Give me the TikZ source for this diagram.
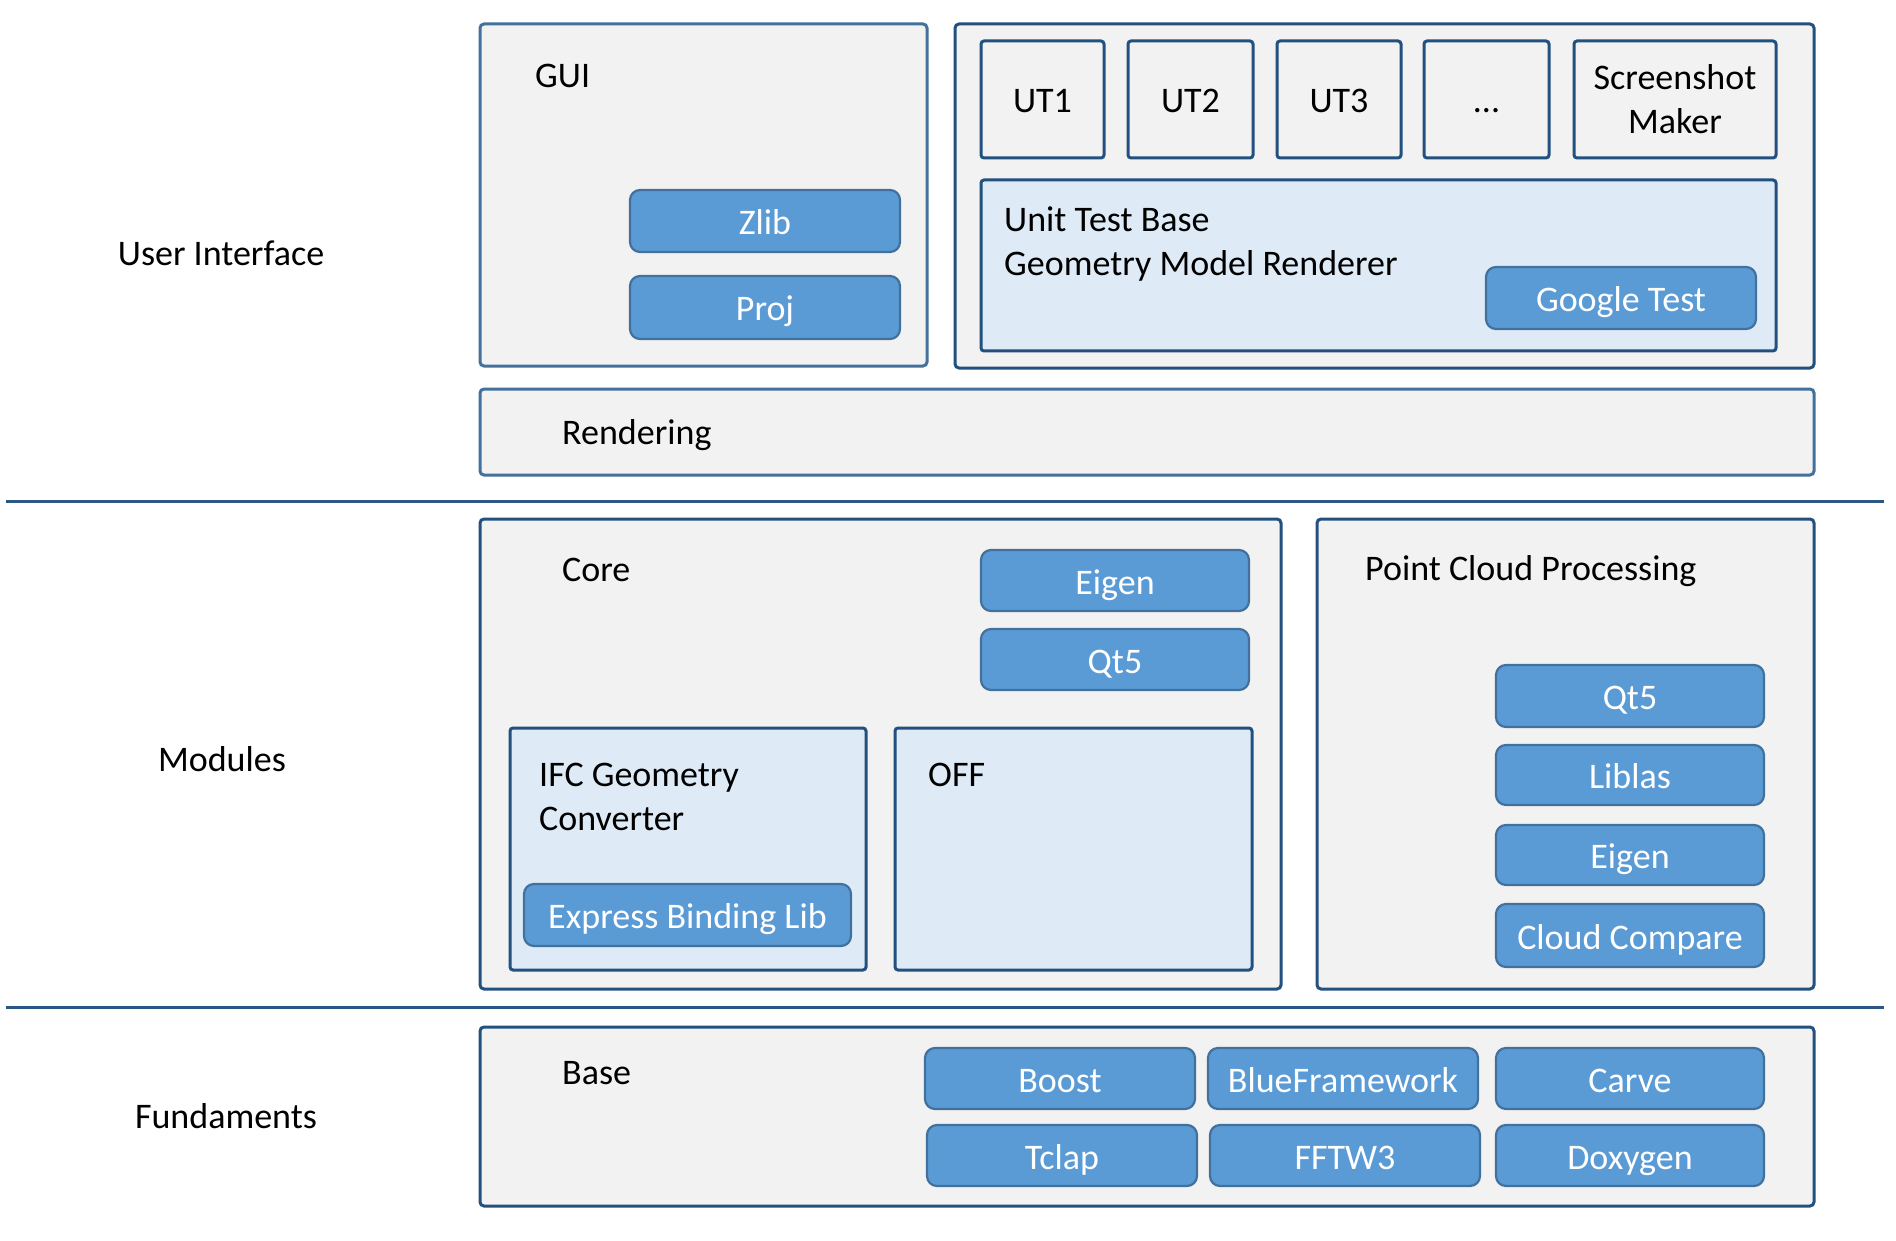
\documentclass[tikz,border=0pt]{standalone}
\usepackage{fontspec}
\setmainfont{Carlito}
\definecolor{boxfill}{HTML}{F2F2F2}
\definecolor{lightfill}{HTML}{DEEBF7}
\definecolor{bluefill}{HTML}{5B9BD5}
\definecolor{midline}{HTML}{41719C}
\definecolor{darkline}{HTML}{22507F}
\definecolor{sepline}{HTML}{2A5783}
\tikzset{
  every node/.style={font=\fontsize{36}{44}\selectfont, inner sep=0pt},
  outerbox/.style={draw=darkline, fill=boxfill, line width=3pt, rounded corners=4pt},
  outerboxl/.style={draw=midline, fill=boxfill, line width=3pt, rounded corners=4pt},
  utbox/.style={draw=darkline, fill=boxfill, line width=3pt, rounded corners=3pt, align=center},
  utone/.style={utbox, text height=34pt, text depth=8pt},
  lightbox/.style={draw=darkline, fill=lightfill, line width=3pt, rounded corners=3pt},
  libbox/.style={draw=midline, fill=bluefill, line width=2.2pt, rounded corners=10pt, text=white, text height=35pt, text depth=8pt},
  lbl/.style={text=black},
  sep/.style={draw=sepline, line width=3pt}
}
\newcommand\bx[7]{\node[#2, minimum width={(#5-#3)*1pt}, minimum height={(#6-#4)*1pt}] (#1) at ({(#3+#5)/2},{(#4+#6)/2}) {#7};}
\begin{document}
\begin{tikzpicture}[x=1pt,y=-1pt]
\useasboundingbox[fill=white] (0,0) rectangle (1896,1241);
% separator lines
\coordinate (s1a) at (6,501); \coordinate (s1b) at (1884,501);
\coordinate (s2a) at (6,1007); \coordinate (s2b) at (1884,1007);
\draw[sep] (s1a) -- (s1b);
\draw[sep] (s2a) -- (s2b);
% left labels
\node[lbl] (lUI) at (221,253) {User Interface};
\node[lbl] (lMod) at (222,759) {Modules};
\node[lbl] (lFun) at (226,1116) {Fundaments};
% GUI
\bx{gui}{outerboxl}{480}{24}{927}{366}{}
\node[lbl, anchor=base west] (tgui) at (535,88) {GUI};
\bx{zlib}{libbox}{630}{190}{900}{252}{Zlib}
\bx{proj}{libbox}{630}{276}{900}{339}{Proj}
% Unit tests
\bx{ut}{outerbox}{955}{24}{1814}{368}{}
\bx{ut1}{utone}{981}{41}{1104}{158}{UT1}
\bx{ut2}{utone}{1128}{41}{1253}{158}{UT2}
\bx{ut3}{utone}{1277}{41}{1401}{158}{UT3}
\bx{utd}{utone}{1424}{41}{1549}{158}{...}
\bx{ssm}{utbox}{1574}{41}{1776}{158}{Screenshot\\Maker}
\bx{utb}{lightbox}{981}{180}{1776}{351}{}
\node[lbl, anchor=base west] (tutb1) at (1004,232) {Unit Test Base};
\node[lbl, anchor=base west] (tutb2) at (1004,276) {Geometry Model Renderer};
\bx{gtest}{libbox}{1486}{267}{1756}{329}{Google Test}
% Rendering
\bx{rend}{outerboxl}{480}{389}{1814}{475}{}
\node[lbl, anchor=base west] (trend) at (562,444) {Rendering};
% Core
\bx{core}{outerbox}{480}{519}{1281}{989}{}
\node[lbl, anchor=base west] (tcore) at (562,581) {Core};
\bx{ceigen}{libbox}{981}{550}{1249}{611}{Eigen}
\bx{cqt}{libbox}{981}{629}{1249}{690}{Qt5}
\bx{ifc}{lightbox}{510}{728}{866}{970}{}
\node[lbl, anchor=base west] (tifc1) at (539,786) {IFC Geometry};
\node[lbl, anchor=base west] (tifc2) at (539,830) {Converter};
\bx{ebl}{libbox}{524}{884}{851}{946}{Express Binding Lib}
\bx{off}{lightbox}{895}{728}{1252}{970}{}
\node[lbl, anchor=base west] (toff) at (928,786) {OFF};
% Point cloud
\bx{pcp}{outerbox}{1317}{519}{1814}{989}{}
\node[lbl, anchor=base west] (tpcp) at (1365,580) {Point Cloud Processing};
\bx{pqt}{libbox}{1496}{665}{1764}{727}{Qt5}
\bx{plib}{libbox}{1496}{745}{1764}{805}{Liblas}
\bx{peig}{libbox}{1496}{825}{1764}{885}{Eigen}
\bx{pcc}{libbox}{1496}{904}{1764}{967}{Cloud Compare}
% Base
\bx{base}{outerbox}{480}{1027}{1814}{1206}{}
\node[lbl, anchor=base west] (tbase) at (562,1084) {Base};
\bx{boost}{libbox}{925}{1048}{1195}{1109}{Boost}
\bx{bfw}{libbox}{1208}{1048}{1478}{1109}{BlueFramework}
\bx{carve}{libbox}{1496}{1048}{1764}{1109}{Carve}
\bx{tclap}{libbox}{927}{1125}{1197}{1186}{Tclap}
\bx{fftw}{libbox}{1210}{1125}{1480}{1186}{FFTW3}
\bx{doxy}{libbox}{1496}{1125}{1764}{1186}{Doxygen}
\end{tikzpicture}
\end{document}
